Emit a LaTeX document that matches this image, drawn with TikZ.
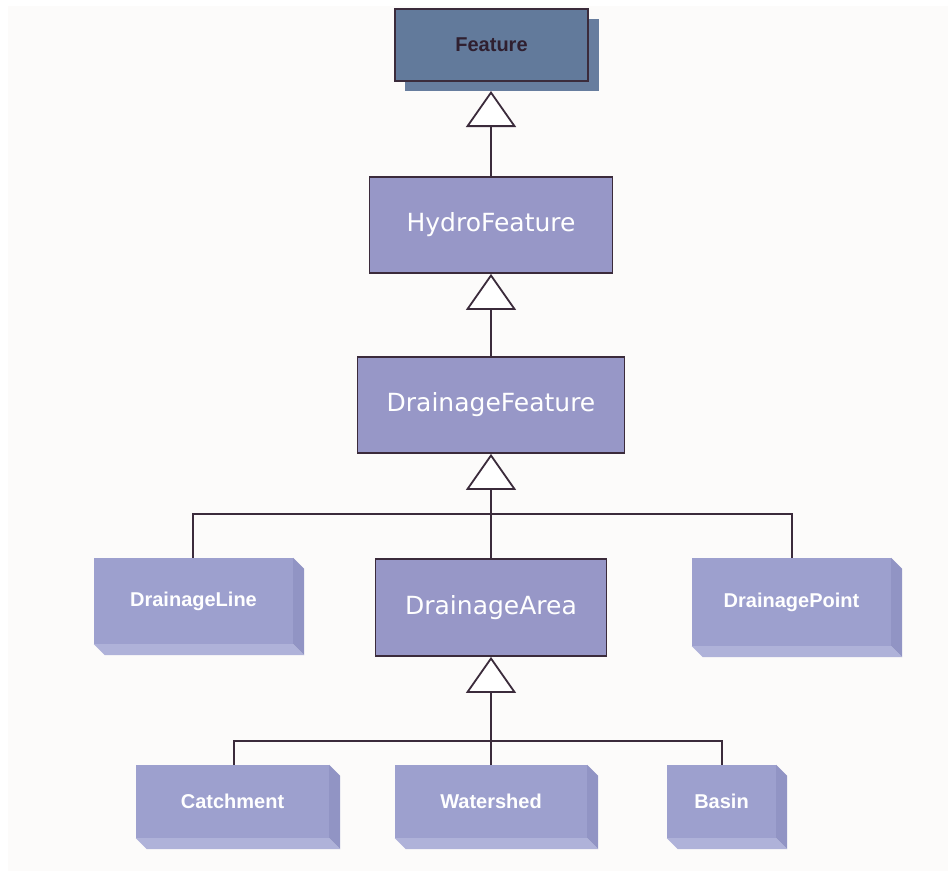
\documentclass[tikz,border=0pt]{standalone}
\usepackage{fontspec}
\setmainfont{DejaVu Sans}
\newfontfamily\boxfont{Liberation Sans}
\usetikzlibrary{arrows.meta}

\definecolor{pagebg}{HTML}{FCFBFA}
\definecolor{edgeclr}{HTML}{3B2B3B}
\definecolor{rootfill}{HTML}{627A9B}
\definecolor{rootshadow}{HTML}{677D9E}
\definecolor{roottext}{HTML}{2F1F2F}
\definecolor{classfill}{HTML}{9797C7}
\definecolor{leaffront}{HTML}{9DA0CE}
\definecolor{leafside}{HTML}{9194C4}
\definecolor{leafbottom}{HTML}{AFB2D9}

\tikzset{
  classbox/.style={draw=edgeclr, line width=1.8pt, fill=classfill, text=white,
    font=\fontsize{25}{28}\selectfont, inner sep=0pt},
  rootbox/.style={draw=edgeclr, line width=1.8pt, fill=rootfill, text=roottext,
    font=\boxfont\bfseries\fontsize{20}{24}\selectfont, inner sep=0pt},
  leafbox/.style={fill=leaffront, text=white,
    font=\boxfont\bfseries\fontsize{20}{24}\selectfont, inner sep=0pt},
  link/.style={draw=edgeclr, line width=1.8pt},
  inherit/.style={link, -{Triangle[open, length=36pt, width=50pt, line width=1.8pt, fill=white]}},
}

% front face of a block plus its right and bottom faces
\newcommand{\leafblock}[6]{%
  \node[leafbox, minimum width=#4, minimum height=#5] (#1) at (#2,#3) {#6};
  \fill[leafside] (#1.north east) -- ++(11,11) -- ([shift={(11,11)}]#1.south east) -- (#1.south east) -- cycle;
  \fill[leafbottom] (#1.south west) -- (#1.south east) -- ++(11,11) -- ([shift={(11,11)}]#1.south west) -- cycle;
}

\begin{document}
\begin{tikzpicture}[x=1pt, y=-1pt]
  \useasboundingbox (0,0) rectangle (948,871);
  \fill[white] (0,0) rectangle (948,871);
  \fill[pagebg] (8,6) rectangle (948,871);

  % root class with its drop shadow
  \fill[rootshadow] (405,19) rectangle (598.5,91);
  \node[rootbox, minimum width=193, minimum height=72] (feature) at (491.5,45) {Feature};
  \coordinate (featurebase) at (491,91);

  \node[classbox, minimum width=243, minimum height=96] (hydro) at (491,225) {HydroFeature};
  \node[classbox, minimum width=267, minimum height=96] (drainage) at (491,405) {DrainageFeature};
  \node[classbox, minimum width=231, minimum height=97] (area) at (491,607.5) {DrainageArea};

  \leafblock{line}{193.5}{601}{199}{86}{DrainageLine}
  \leafblock{point}{791.5}{602}{199}{88}{DrainagePoint}
  \leafblock{catch}{232.5}{801.5}{193}{73}{Catchment}
  \leafblock{shed}{491}{801.5}{192}{73}{Watershed}
  \leafblock{basin}{721.5}{801.5}{109}{73}{Basin}

  % generalisation links
  \draw[inherit] (hydro.north -| featurebase) -- (featurebase);
  \draw[inherit] (drainage.north) -- (hydro.south);

  \coordinate (busA) at (491,514);
  \draw[link] (line.north -| 193,0) |- (busA) -| (point.north -| 792,0);
  \draw[link] (area.north) -- (busA);
  \draw[inherit] (busA) -- (drainage.south);

  \coordinate (busB) at (491,741);
  \draw[link] (catch.north -| 234,0) |- (busB) -| (basin.north -| 722,0);
  \draw[link] (shed.north -| busB) -- (busB);
  \draw[inherit] (busB) -- (area.south);
\end{tikzpicture}
\end{document}
